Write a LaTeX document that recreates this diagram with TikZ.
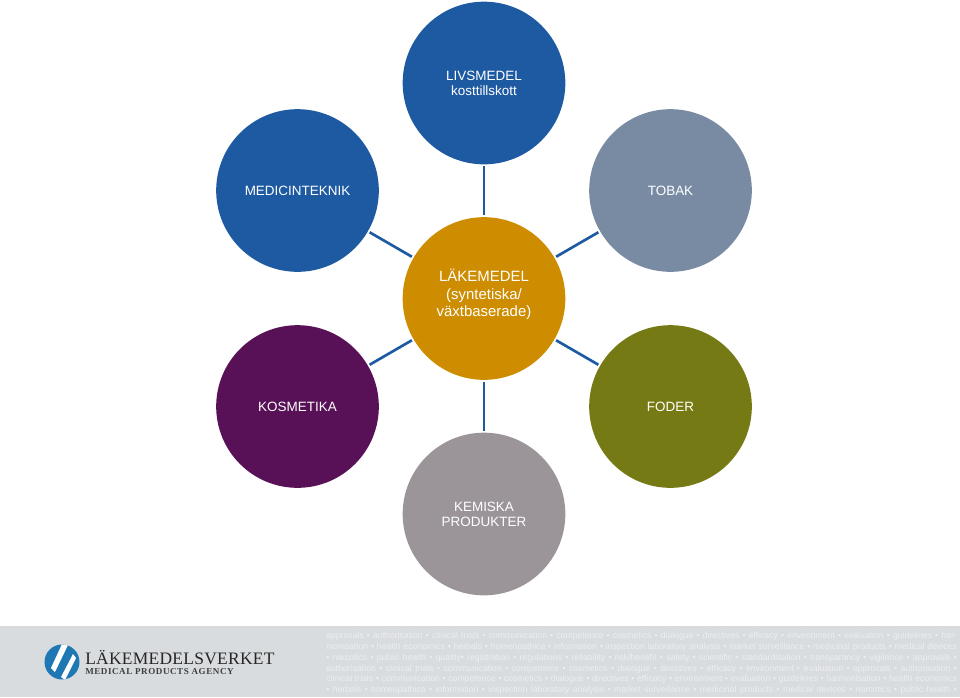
\documentclass[tikz,border=0pt]{standalone}
\usepackage{fontspec}
\usepackage{xcolor}
\setmainfont{Liberation Sans}
\newfontfamily\logofont{Liberation Serif}[LetterSpace=1.5]
\newfontfamily\logosubfont{Liberation Serif}[LetterSpace=6]
\usetikzlibrary{calc}
\definecolor{lmblue}{RGB}{30,90,162}
\definecolor{lmslate}{RGB}{121,139,163}
\definecolor{lmgold}{RGB}{206,140,0}
\definecolor{lmplum}{RGB}{88,16,86}
\definecolor{lmolive}{RGB}{118,122,20}
\definecolor{lmgrey}{RGB}{155,149,153}
\definecolor{lmband}{RGB}{217,220,223}
\definecolor{lmword}{RGB}{236,238,240}
\definecolor{lmlogo}{RGB}{30,120,180}
\newcommand{\wordline}[1]{\makebox[473pt][s]{#1}}
\tikzset{
  area/.style={circle, minimum size=122pt, inner sep=0pt, outer sep=1.5pt, align=center,
    text=white, font=\fontsize{10.1}{11.4}\selectfont},
  link/.style={draw=lmblue, line width=2pt},
  word/.style={anchor=west, inner sep=0pt, text=lmword, font=\fontsize{6.5}{8}\selectfont},
  every picture/.append style={line join=round}
}
\begin{document}
\begin{tikzpicture}[x=0.75pt, y=-0.75pt]
  \useasboundingbox (0,0) rectangle (960,697);
  \fill[lmband] (0,626) rectangle (960,697);
  % circles
  \node[area, fill=lmgold] (lak) at (484,298.5) {};
  \node[align=center, text=white, inner sep=0pt, font=\fontsize{11.2}{13.1}\selectfont] (laktext) at (484,294.5) {LÄKEMEDEL\\(syntetiska/\\växtbaserade)};
  \node[area, fill=lmblue] (liv) at (484,83) {LIVSMEDEL\\kosttillskott};
  \node[area, fill=lmblue] (med) at (297.5,190.5) {MEDICINTEKNIK};
  \node[area, fill=lmslate] (tob) at (670.5,190.5) {TOBAK};
  \node[area, fill=lmplum] (kos) at (297.5,406.5) {KOSMETIKA};
  \node[area, fill=lmolive] (fod) at (670.5,406.5) {FODER};
  \node[area, fill=lmgrey] (kem) at (484,514) {KEMISKA\\PRODUKTER};
  \foreach \other in {liv,med,tob,kos,fod,kem}
    \draw[link] (lak) -- (\other);
  % logo
  \begin{scope}
    \clip (62,662) circle (17.5);
    \fill[lmlogo] (44,644) rectangle (80,680);
    \fill[white] (51,668) -- (62,644) -- (68,645) -- (55,672) -- cycle;
    \fill[white] (61,677) -- (73,654) -- (76,658) -- (65,680) -- cycle;
  \end{scope}
  \node[anchor=base west, inner sep=0pt, text=black!85] (logoname) at (85,664.5)
    {\logofont\fontsize{13.1}{14}\selectfont LÄKEMEDELSVERKET};
  \node[anchor=base west, inner sep=0pt, text=black!75] (logosub) at (85,674)
    {\logosubfont\fontsize{6.8}{8}\selectfont\bfseries MEDICAL PRODUCTS AGENCY};
  % band text
  \node[word] (w1) at (326,636) {\wordline{approvals • authorisation • clinical trials • communication • competence • cosmetics • dialogue • directives • efficacy • environment • evaluation • guidelines • har-}};
  \node[word] (w2) at (326,647) {\wordline{monisation • health economics • herbals • homeopathica • information • inspection laboratory analysis • market surveillance • medicinal products • medical devices}};
  \node[word] (w3) at (326,658) {\wordline{• narcotics • public health • quality• registration • regulations • reliability • risk/benefit • safety • scientific • standardisation • transparancy • vigilance • approvals •}};
  \node[word] (w4) at (326,669) {\wordline{authorisation • clinical trials • communication • competence • cosmetics • dialogue • directives • efficacy • environment • evaluation • approvals • authorisation •}};
  \node[word] (w5) at (326,679) {\wordline{clinical trials • communication • competence • cosmetics • dialogue • directives • efficacy • environment • evaluation • guidelines • harmonisation • health economics}};
  \node[word] (w6) at (326,690) {\wordline{• herbals • homeopathica • information • inspection laboratory analysis • market surveillance • medicinal products • medical devices • narcotics • public health •}};
\end{tikzpicture}
\end{document}
